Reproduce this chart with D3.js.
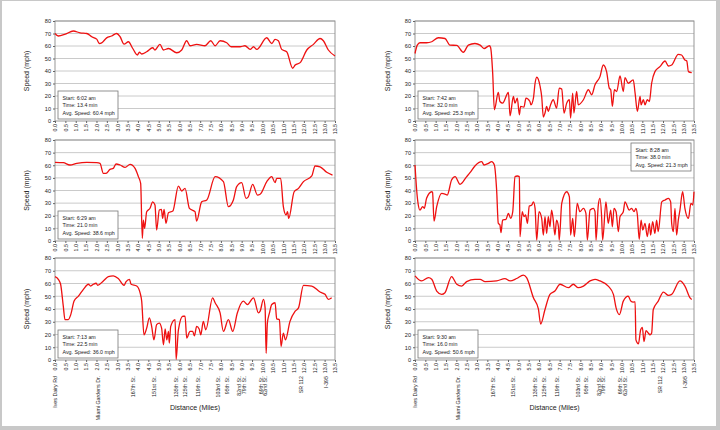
<!DOCTYPE html>
<html>
<head>
<meta charset="utf-8">
<script src="https://cdn.jsdelivr.net/npm/d3@7"></script>
<style>
  html, body { margin: 0; padding: 0; background: #c8c8c8; }
  svg { display: block; font-family: "Liberation Sans", Arial, sans-serif; }
</style>
</head>
<body>
<script>
// speed (mph) against distance (miles), one array per trip
const trip0602 = [[0,70],[0.16,68],[0.5,69.5],[0.88,72],[1.21,70.5],[1.53,70],[1.77,67.4],[2.01,65.5],[2.14,62],[2.25,62.5],[2.49,66.5],[2.73,68],[2.97,70],[3.14,67.4],[3.33,61.5],[3.54,63.4],[3.75,58],[3.97,52.8],[4.07,55],[4.18,53.6],[4.42,55.4],[4.71,58.6],[4.82,56.8],[5.06,61.3],[5.23,56.8],[5.47,58],[5.87,54.6],[6.11,56.8],[6.35,64.2],[6.51,60.2],[6.83,61.3],[7.23,60.2],[7.51,64.2],[7.72,60.2],[7.96,64.2],[8.28,62.6],[8.49,59.4],[8.92,59.4],[9.16,60.2],[9.41,57.3],[9.57,59.4],[9.73,57.3],[10.21,66.6],[10.45,62],[10.61,65.3],[10.77,64.2],[10.93,57.3],[11.17,55.4],[11.46,42.2],[11.58,44.8],[11.82,46.7],[12.14,56.8],[12.46,61.3],[12.78,66],[12.94,64.2],[13.18,56.8],[13.5,52]];

const trip0742 = [[0,54],[0.11,60.7],[0.24,62.6],[0.56,62.6],[0.81,63.4],[1.13,66.6],[1.45,66],[1.69,60.7],[2.02,60.5],[2.34,55],[2.58,60.7],[2.9,62],[3.15,60.7],[3.34,58],[3.6,60.2],[3.66,58.6],[3.76,38],[3.84,9],[4.03,22.8],[4.11,15.6],[4.24,14.3],[4.52,22.8],[4.6,4.2],[4.76,19.6],[4.84,14.3],[4.95,18.3],[5.05,5],[5.11,11.7],[5.27,11.1],[5.37,18.3],[5.56,15.6],[5.61,13],[5.73,18.3],[5.81,30.2],[5.89,35],[6.05,28],[6.13,19.6],[6.21,3.2],[6.29,6.4],[6.37,11.7],[6.45,7.7],[6.56,13],[6.69,17],[6.85,10.3],[6.98,26.3],[7.1,25.5],[7.21,6.4],[7.34,14.3],[7.47,17],[7.53,2.4],[7.63,22.3],[7.69,6.4],[7.82,23.6],[7.9,13],[8.15,17],[8.39,25],[8.55,21],[8.71,29],[8.95,35.5],[9.11,44.8],[9.27,39.5],[9.4,26.3],[9.47,25],[9.55,11.7],[9.65,25],[9.76,23.6],[9.92,36],[10.08,23.6],[10.16,34.7],[10.32,30.2],[10.56,32.9],[10.65,22.3],[10.76,7.7],[10.89,19.6],[10.94,13],[11.05,17],[11.13,13],[11.24,17],[11.34,15.6],[11.45,30.2],[11.61,39.5],[11.85,43.5],[12.1,48],[12.26,44],[12.42,44.8],[12.74,53.3],[12.9,52.8],[13.06,48.8],[13.15,48],[13.23,39.5],[13.39,38.7]];

const trip0629 = [[0,62.3],[0.4,62],[0.72,60.2],[1.05,61.5],[1.53,62.3],[2.01,62],[2.17,61.5],[2.33,53.6],[2.46,53.6],[2.65,56.7],[2.81,57.5],[2.94,61],[3.14,60.2],[3.38,58.3],[3.62,60.7],[3.86,57.5],[4.02,51],[4.13,45.6],[4.21,2.1],[4.26,16.6],[4.32,10],[4.42,23.2],[4.58,25.9],[4.71,31],[4.82,28.5],[4.9,8.7],[5.03,24.5],[5.13,25],[5.19,17.9],[5.26,25],[5.35,14],[5.47,22.4],[5.68,23.7],[5.95,43.5],[6.11,39.6],[6.27,41.7],[6.48,25.9],[6.75,23.2],[6.83,15.8],[7.07,31],[7.32,32.5],[7.72,51],[8.12,47],[8.36,27.2],[8.6,32.5],[8.76,43],[9.0,46.2],[9.21,33.8],[9.32,35],[9.53,44.9],[9.76,36.4],[9.89,37],[10.21,47],[10.45,51],[10.61,46.2],[10.69,49.6],[10.88,49.6],[11.01,27.2],[11.14,20.6],[11.21,23.2],[11.27,17.9],[11.53,39],[11.74,41.7],[11.98,47],[12.38,51.5],[12.54,59.4],[12.78,58.8],[13.1,54.4],[13.38,52.2]];

const trip0828 = [[0,60.2],[0.08,40.4],[0.16,28.5],[0.24,24.5],[0.37,27.2],[0.45,25.9],[0.56,33.8],[0.81,39],[0.85,38.5],[0.92,15.8],[1.05,27.2],[1.29,37.7],[1.45,37.2],[1.56,36.4],[1.77,48.3],[1.94,51],[2.18,44.9],[2.5,51],[2.66,54.1],[2.9,59.4],[3.23,62.8],[3.34,60.2],[3.55,61.5],[3.71,62.8],[3.84,60.2],[3.95,40.4],[4.03,14],[4.11,12.7],[4.16,6.6],[4.24,16.6],[4.4,17.2],[4.52,21.9],[4.63,17.9],[4.73,23.2],[4.84,51],[4.95,51.5],[5.05,51],[5.08,3.4],[5.19,23.2],[5.27,19.3],[5.35,20.6],[5.44,14],[5.53,27.7],[5.65,28.5],[5.73,31],[5.81,25.9],[5.89,0.8],[6,23.2],[6.13,17.9],[6.21,4.7],[6.29,19.3],[6.37,6],[6.45,19.3],[6.53,11.3],[6.61,24.5],[6.69,16.6],[6.77,4.7],[6.85,16.6],[6.94,11.3],[6.98,0.8],[7.1,29.8],[7.34,39],[7.47,35],[7.53,4.7],[7.63,17.9],[7.71,3.4],[7.85,29.8],[7.98,23.2],[8.15,25.9],[8.27,21.9],[8.34,0.8],[8.47,24.5],[8.63,25.9],[8.71,23.2],[8.76,0.8],[8.87,28.5],[8.95,33.8],[9.03,19.3],[9.08,0.8],[9.24,31],[9.35,14],[9.47,24.5],[9.55,11.3],[9.63,25.9],[9.73,23.2],[9.84,7.4],[9.92,19.3],[10.08,23.2],[10.16,31],[10.37,24.5],[10.48,25.9],[10.6,23.2],[10.69,25.9],[10.76,20.6],[10.85,1.3],[10.94,16.6],[11.02,8.7],[11.13,14],[11.24,3.4],[11.34,14],[11.4,4.7],[11.5,15.3],[11.61,6],[11.69,16.6],[11.77,7.4],[11.94,31],[12.1,32.5],[12.26,33.8],[12.37,31],[12.42,14],[12.5,7.4],[12.58,25.9],[12.66,4.7],[12.74,16.6],[12.82,24.5],[12.95,39],[13.06,25.9],[13.23,17.9],[13.35,29.8],[13.44,28.5],[13.5,39]];

const trip0713 = [[0,65.4],[0.16,63.3],[0.27,59.4],[0.4,42.2],[0.48,31.7],[0.64,31.7],[0.76,35.6],[0.92,46.2],[1.13,50.1],[1.37,55.4],[1.61,59.4],[1.72,58],[1.85,59.4],[1.98,60.2],[2.06,58.6],[2.33,62],[2.57,65.4],[2.81,66],[3.05,63.9],[3.33,58.6],[3.42,61.2],[3.59,63.3],[3.67,59.4],[3.94,58],[4.1,52.8],[4.18,46.2],[4.29,19.8],[4.42,25],[4.55,33],[4.66,26.4],[4.77,15.8],[4.9,27.7],[5.03,29],[5.14,25],[5.23,11.9],[5.31,24.3],[5.39,15.8],[5.47,22.4],[5.51,13.2],[5.58,26.4],[5.79,31.7],[5.84,0.5],[5.95,23.7],[6.16,34.3],[6.27,34.3],[6.35,17.2],[6.51,22.4],[6.64,22.4],[6.72,19],[6.83,26.4],[6.95,24.3],[7.03,19.8],[7.15,30.3],[7.27,23.7],[7.6,48.8],[7.72,44.9],[7.96,36.9],[8.12,22.4],[8.36,31.7],[8.57,22.4],[8.79,36.9],[9.08,46.2],[9.28,43.5],[9.57,48.8],[9.81,36.9],[9.89,38.3],[10.05,47.5],[10.13,40.9],[10.18,5.3],[10.24,29],[10.34,36.9],[10.45,43.5],[10.61,44.9],[10.69,32.2],[10.82,31.7],[10.9,10.6],[11.01,21.1],[11.11,15.8],[11.33,30.3],[11.58,38.3],[11.74,40.9],[11.98,58.6],[12.38,58],[12.78,53.3],[13.02,51.5],[13.18,47.5],[13.34,48.8]];

const trip0930 = [[0,66],[0.32,62],[0.65,64.6],[0.81,63.3],[1.05,54.1],[1.29,51.5],[1.45,52.8],[1.77,65.4],[2.02,59.4],[2.26,58],[2.5,61.5],[2.9,63.3],[3.15,63.3],[3.39,61.5],[3.95,62],[4.35,63.9],[4.6,62],[4.92,63.9],[5.24,66.5],[5.4,64.6],[5.73,48.8],[5.97,40.1],[6.08,28.2],[6.29,39.6],[6.53,51.5],[6.77,54.1],[7.02,59.4],[7.42,56.7],[7.66,59.4],[7.9,56.7],[8.15,58],[8.47,62],[8.71,63.3],[8.95,62],[9.35,58],[9.6,51.5],[9.73,40.9],[9.89,35.6],[10.08,46.2],[10.32,50.1],[10.44,46.2],[10.56,45.4],[10.65,45.6],[10.69,15.8],[10.81,12.7],[10.92,23.7],[11,25.6],[11.08,14.5],[11.18,23],[11.29,21.1],[11.37,19.8],[11.45,21.1],[11.53,39.6],[11.77,46.2],[12.02,53.3],[12.26,50.7],[12.42,51.5],[12.82,62],[13.06,58],[13.31,48.8],[13.39,47.5]];

const tripInfo = {
  t0602: ["Start: 6:02 am", "Time: 13.4 min", "Avg. Speed: 60.4 mph"],
  t0742: ["Start: 7:42 am", "Time: 32.0 min", "Avg. Speed: 25.3 mph"],
  t0629: ["Start: 6:29 am", "Time: 21.0 min", "Avg. Speed: 38.6 mph"],
  t0828: ["Start: 8:28 am", "Time: 38.0 min", "Avg. Speed: 21.3 mph"],
  t0713: ["Start: 7:13 am", "Time: 22.5 min", "Avg. Speed: 36.0 mph"],
  t0930: ["Start: 9:30 am", "Time: 16.0 min", "Avg. Speed: 50.6 mph"]
};

const xTickLabels = ["0.0","0.5","1.0","1.5","2.0","2.5","3.0","3.5","4.0","4.5","5.0","5.5","6.0","6.5","7.0","7.5","8.0","8.5","9.0","9.5","10.0","10.5","11.0","11.5","12.0","12.5","13.0","13.5"];
const yTicks = [0, 10, 20, 30, 40, 50, 60, 70, 80];

const streetNames = ["Ives Dairy Rd", "Miami Gardens Dr.", "167th St.", "151st St.", "135th St.", "125th St.", "119th St.", "103rd St.", "95th St.", "82nd St.", "79th St.", "69th St.", "62nd St.", "SR 112", "I-395"];
const streetMiles = [0, 2.09, 3.78, 4.77, 5.82, 6.27, 6.88, 7.88, 8.28, 8.9, 9.1, 9.95, 10.15, 11.88, 13.05];

const W = 720, H = 430;
const svg = d3.select("body").append("svg").attr("width", W).attr("height", H);

svg.append("rect").attr("x", 2).attr("y", 1).attr("width", 714).attr("height", 425).attr("fill", "#fff");

const cols = [{left: 55, right: 335, ytitle: 27}, {left: 415, right: 694, ytitle: 388}];
const rows = [{top: 21, bottom: 121}, {top: 140, bottom: 241}, {top: 258, bottom: 360}];

const panels = [
  {data: trip0602, info: tripInfo.t0602, c: 0, r: 0, box: "left"},
  {data: trip0742, info: tripInfo.t0742, c: 1, r: 0, box: "left"},
  {data: trip0629, info: tripInfo.t0629, c: 0, r: 1, box: "left"},
  {data: trip0828, info: tripInfo.t0828, c: 1, r: 1, box: "topright"},
  {data: trip0713, info: tripInfo.t0713, c: 0, r: 2, box: "left"},
  {data: trip0930, info: tripInfo.t0930, c: 1, r: 2, box: "left"}
];

panels.forEach(p => {
  const col = cols[p.c], row = rows[p.r];
  const x = d3.scaleLinear().domain([0, 13.5]).range([col.left, col.right]);
  const y = d3.scaleLinear().domain([0, 80]).range([row.bottom, row.top]);
  const g = svg.append("g");

  // gridlines
  g.selectAll(".grid").data(yTicks.slice(1)).join("line")
    .attr("x1", col.left).attr("x2", col.right)
    .attr("y1", d => y(d)).attr("y2", d => y(d))
    .attr("stroke", "#bcbcbc").attr("stroke-width", 0.8);

  g.append("rect")
    .attr("x", col.left).attr("y", row.top)
    .attr("width", col.right - col.left).attr("height", row.bottom - row.top)
    .attr("fill", "none").attr("stroke", "#8c8c8c").attr("stroke-width", 0.9);

  // y axis
  const ya = g.append("g").attr("transform", `translate(${col.left},0)`)
    .call(d3.axisLeft(y).tickValues(yTicks).tickSize(2).tickPadding(2));
  ya.select(".domain").remove();
  ya.selectAll("line").attr("stroke", "#666");
  ya.selectAll("text").attr("font-size", 5.6).attr("fill", "#222").attr("font-family", "Liberation Sans, Arial");

  // x axis
  const xa = g.append("g").attr("transform", `translate(0,${row.bottom})`)
    .call(d3.axisBottom(x).tickValues(xTickLabels.map(Number)).tickFormat((d, i) => xTickLabels[i]).tickSize(2));
  xa.select(".domain").remove();
  xa.selectAll("line").attr("stroke", "#666");
  xa.selectAll("text")
    .attr("font-size", 5.3).attr("fill", "#222").attr("font-family", "Liberation Sans, Arial")
    .attr("transform", "rotate(-90)")
    .attr("text-anchor", "end").attr("dy", "0.35em").attr("x", -3).attr("y", 0);

  // y axis title
  g.append("text")
    .attr("transform", `translate(${col.ytitle},${(row.top + row.bottom) / 2}) rotate(-90)`)
    .attr("text-anchor", "middle").attr("dy", "0.35em")
    .attr("font-size", 7).attr("fill", "#222").text("Speed (mph)");

  // speed trace
  g.append("path").datum(p.data)
    .attr("d", d3.line().x(d => x(d[0])).y(d => y(d[1])).curve(d3.curveMonotoneX))
    .attr("fill", "none").attr("stroke", "#ee1111").attr("stroke-width", 1.3)
    .attr("stroke-linejoin", "round");

  // info box
  const bw = 60, bh = 28;
  const bx = p.box === "left" ? col.left + 3 : col.right - bw - 3;
  const by = p.box === "left" ? row.bottom - bh - 2 : row.top + 3;
  g.append("rect").attr("x", bx).attr("y", by).attr("width", bw).attr("height", bh)
    .attr("fill", "#fff").attr("stroke", "#777").attr("stroke-width", 0.8);
  g.selectAll(".info").data(p.info).join("text")
    .attr("x", bx + 4.5).attr("y", (d, i) => by + 8.5 + i * 7.5)
    .attr("font-size", 5.3).attr("fill", "#222").text(d => d);

  // street names and axis title under the bottom row
  if (p.r === 2) {
    g.selectAll(".street").data(streetNames).join("text")
      .attr("transform", (d, i) => `translate(${x(streetMiles[i])},376) rotate(-90)`)
      .attr("text-anchor", "end").attr("dy", "0.35em")
      .attr("font-size", 5.3).attr("fill", "#222").text(d => d);
    g.append("text")
      .attr("x", (col.left + col.right) / 2).attr("y", 410)
      .attr("text-anchor", "middle").attr("font-size", 7).attr("fill", "#222")
      .text("Distance (Miles)");
  }
});
</script>
</body>
</html>
